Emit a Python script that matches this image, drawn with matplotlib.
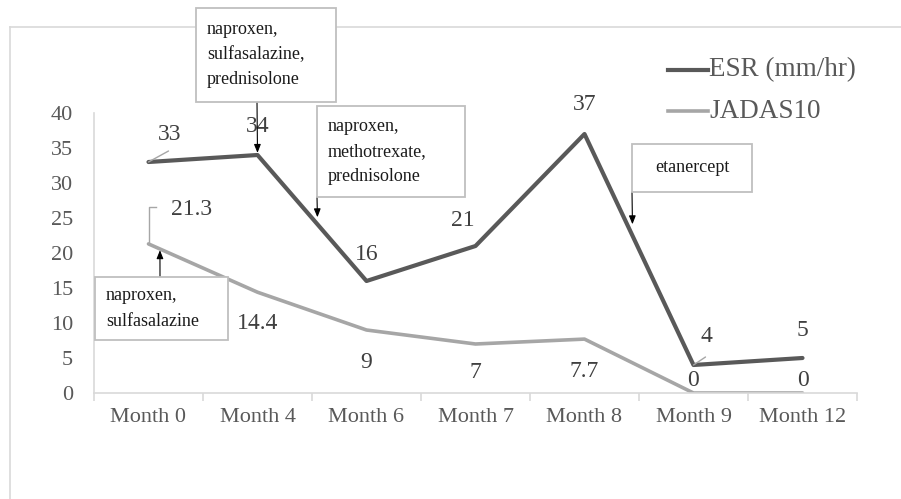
import matplotlib.pyplot as plt
from matplotlib.patches import Rectangle
from matplotlib.lines import Line2D

months = ['Month 0', 'Month 4', 'Month 6', 'Month 7', 'Month 8', 'Month 9', 'Month 12']
esr = [33, 34, 16, 21, 37, 4, 5]
jadas = [21.3, 14.4, 9, 7, 7.7, 0, 0]
esr_labels = ['33', '34', '16', '21', '37', '4', '5']
jadas_labels = ['21.3', '14.4', '9', '7', '7.7', '0', '0']

W, H = 901, 499
plt.rcParams['font.family'] = ['Liberation Serif', 'DejaVu Serif']

fig = plt.figure(figsize=(W / 100, H / 100), dpi=100)


def fx(px):
    return px / W


def fy(py):
    return 1 - py / H


# outer chart frame
fig.add_artist(Line2D([fx(10), 1], [fy(27), fy(27)], color='#d9d9d9', lw=1.2))
fig.add_artist(Line2D([fx(10), fx(10)], [fy(27), 0], color='#d9d9d9', lw=1.2))

ax = fig.add_axes([fx(94), fy(393), fx(857) - fx(94), fy(113) - fy(393)])
x = list(range(len(months)))
dark = '#595959'
light = '#a6a6a6'
ax.plot(x, esr, color=dark, lw=3, solid_capstyle='round', label='ESR (mm/hr)', zorder=3)
ax.plot(x, jadas, color=light, lw=2.6, solid_capstyle='round', label='JADAS10', zorder=2)

ax.set_xlim(-0.5, len(months) - 0.5)
ax.set_ylim(0, 40)
ax.set_yticks(range(0, 41, 5))
ax.set_xticks(x)
ax.set_xticklabels(months)
ax.set_xticks([i - 0.5 for i in range(len(months) + 1)], minor=True)
ax.tick_params(axis='x', which='major', length=0, pad=11, labelsize=16, labelcolor=dark)
ax.tick_params(axis='x', which='minor', length=6, color='#d9d9d9', width=1.2)
ax.tick_params(axis='y', length=0, pad=15, labelsize=16, labelcolor=dark)
for s in ['top', 'right']:
    ax.spines[s].set_visible(False)
for s in ['left', 'bottom']:
    ax.spines[s].set_color('#d9d9d9')
    ax.spines[s].set_linewidth(1.2)

lab_col = '#404040'
fs = 17
# ESR data labels
offs_esr = [(21, 28), (0, 28), (0, 27), (-13, 25), (0, 29), (13, 28), (0, 28)]
for i, (v, t) in enumerate(zip(esr, esr_labels)):
    ax.annotate(t, (i, v), xytext=offs_esr[i], textcoords='offset pixels',
                ha='center', va='center', fontsize=fs, color=lab_col)
# leader lines
ax.annotate('', (0, esr[0]), xytext=(20, 11), textcoords='offset pixels',
            arrowprops=dict(arrowstyle='-', color='#a6a6a6', lw=1, shrinkA=0, shrinkB=0))
ax.annotate('', (5, esr[5]), xytext=(12, 8), textcoords='offset pixels',
            arrowprops=dict(arrowstyle='-', color='#a6a6a6', lw=1, shrinkA=0, shrinkB=0))

# JADAS data labels
offs_j = [(43, 34), (0, -31), (0, -32), (0, -29), (0, -32), (0, 13), (0, 12)]
for i, (v, t) in enumerate(zip(jadas, jadas_labels)):
    ax.annotate(t, (i, v), xytext=offs_j[i], textcoords='offset pixels',
                ha='center', va='center', fontsize=fs, color=lab_col)
ax.plot([0, 0, 0.065], [jadas[0], 26.6, 26.6], color='#a6a6a6', lw=1, clip_on=False)

# annotation boxes
boxes = [
    ((196, 8, 336, 102), ['naproxen,', 'sulfasalazine,', 'prednisolone'], 'left'),
    ((317, 106, 465, 197), ['naproxen,', 'methotrexate,', 'prednisolone'], 'left'),
    ((632, 144, 752, 192), ['etanercept'], 'center'),
    ((95, 277, 228, 340), ['naproxen,', 'sulfasalazine'], 'left'),
]
for (x0, y0, x1, y1), lines, al in boxes:
    fig.add_artist(Rectangle((fx(x0), fy(y1)), fx(x1) - fx(x0), fy(y0) - fy(y1),
                             facecolor='white', edgecolor='#bfbfbf', lw=1.3, zorder=5))
    n = len(lines)
    lh = 25
    cy = (y0 + y1) / 2
    for k, line in enumerate(lines):
        yy = cy + (k - (n - 1) / 2) * lh
        if al == 'left':
            fig.text(fx(x0 + 11), fy(yy), line, ha='left', va='center', fontsize=13,
                     color='#1a1a1a', zorder=6)
        else:
            fig.text(fx((x0 + x1) / 2), fy(yy), line, ha='center', va='center', fontsize=13,
                     color='#1a1a1a', zorder=6)

arrows = [
    ((1, 34.3), (257, 102)),
    ((1.55, 25.1), (317, 197)),
    ((4.44, 24.1), (632, 192)),
    ((0.105, 20.4), (160, 277)),
]
for tip, (px, py) in arrows:
    ax.annotate('', tip, xytext=(fx(px), fy(py)), textcoords='figure fraction',
                arrowprops=dict(arrowstyle='-|>,head_length=0.5,head_width=0.2', color='black',
                                lw=0.8, shrinkA=0, shrinkB=0), zorder=6, annotation_clip=False)

# legend
for yy, col, name, lw in [(70, dark, 'ESR (mm/hr)', 3), (111, light, 'JADAS10', 2.6)]:
    fig.add_artist(Line2D([fx(668), fx(708)], [fy(yy), fy(yy)], color=col, lw=lw))
    fig.text(fx(709), fy(yy), name, ha='left', va='center', fontsize=19.5, color=dark)

fig.savefig('out.png', dpi=100)
